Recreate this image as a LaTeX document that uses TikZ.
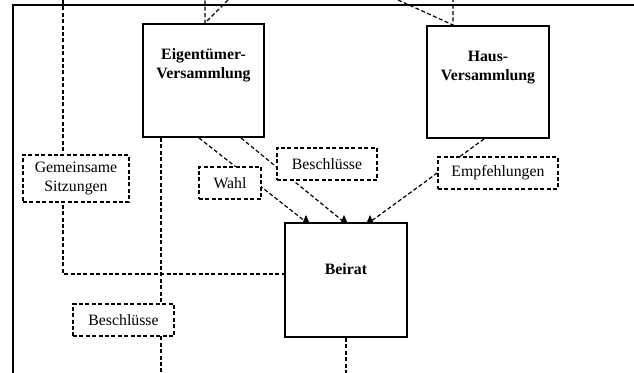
\documentclass[tikz,border=0pt]{standalone}
\usepackage{fontspec}
\setmainfont{Liberation Serif}
\usepackage{tikz}
\usetikzlibrary{calc,backgrounds}

\tikzset{
	organ/.style={draw, line width=1pt, fill=white},
	organtext/.style={font=\fontsize{7.9}{9.5}\selectfont\bfseries, align=center, anchor=north, inner sep=1pt},
	link/.style={line width=0.6pt, dash pattern=on 2pt off 1.2pt},
	tag/.style={draw, link, fill=white, font=\fontsize{7.9}{9.5}\selectfont, align=center, inner sep=1pt, minimum height=16pt},
}
\newcommand{\uptip}[1]{\fill (#1) ++(-3,0) -- ++(6,0) -- ++(-3,-7) -- cycle;}

\begin{document}
\begin{tikzpicture}[x=0.5pt, y=-0.5pt]
		\useasboundingbox (0,0) rectangle (634,373);
		\clip (0,0) rectangle (634,373);
		\coordinate (top) at (0,0);
		\coordinate (bottom) at (0,373);
		\coordinate (gemtop) at (63,0);
		\coordinate (eigtop) at (228,0);
		\coordinate (haustop) at (398,0);

		% frame
		\draw[line width=0.7pt] (13,373) -- (13,5) -- (634,5);

		\node[organ, minimum width=60.5pt, minimum height=56.5pt,
			label={[organtext, yshift=-11.8pt]north:Eigentümer-\\Versammlung}] (eig) at (203.5,80.5) {};
		\node[organ, minimum width=61pt, minimum height=56pt,
			label={[organtext, yshift=-11.8pt]north:Haus-\\Versammlung}] (haus) at (488,82) {};
		\node[organ, minimum width=61pt, minimum height=57pt,
			label={[organtext, yshift=-19.8pt]north:Beirat}] (beirat) at (346,280) {};

		\node[tag, minimum width=53pt, minimum height=23.5pt] (gem) at (76,178.5) {Gemeinsame\\Sitzungen};
		\node[tag, minimum width=31pt] (wahl) at (230,183) {Wahl};
		\node[tag, minimum width=50pt] (beschl1) at (327,164) {Beschlüsse};
		\node[tag, minimum width=60pt] (empf) at (498,173) {Empfehlungen};
		\node[tag, minimum width=50.5pt] (beschl2) at (123.5,320) {Beschlüsse};

		\coordinate (eigN) at ($(eig.north west)+(63,0)$);
		\coordinate (hausN) at ($(haus.north west)+(27,0)$);
		\coordinate (eigS) at ($(eig.south west)+(19,0)$);

		\begin{scope}[on background layer]
			\draw[link] (gemtop) |- ($(beirat.west)+(0,-6)$);
			\draw[link] (eigtop) -- (eigN) -- (eigN |- top);
			\draw[link] (haustop) -- (hausN) -- (hausN |- top);
			\draw[link] (eigS) -- (eigS |- bottom);
			\draw[link] ($(eig.south west)+(57,0)$) -- ($(beirat.north west)+(22,0)$);
			\draw[link] ($(eig.south west)+(99,0)$) -- ($(beirat.north west)+(60,0)$);
			\draw[link] ($(haus.south west)+(58,0)$) -- ($(beirat.north west)+(86,0)$);
			\draw[link] (beirat.south) -- (beirat.south |- bottom);
		\end{scope}

		\uptip{$(beirat.north west)+(22,0)$}
		\uptip{$(beirat.north west)+(60,0)$}
		\uptip{$(beirat.north west)+(86,0)$}
	\end{tikzpicture}
\end{document}
